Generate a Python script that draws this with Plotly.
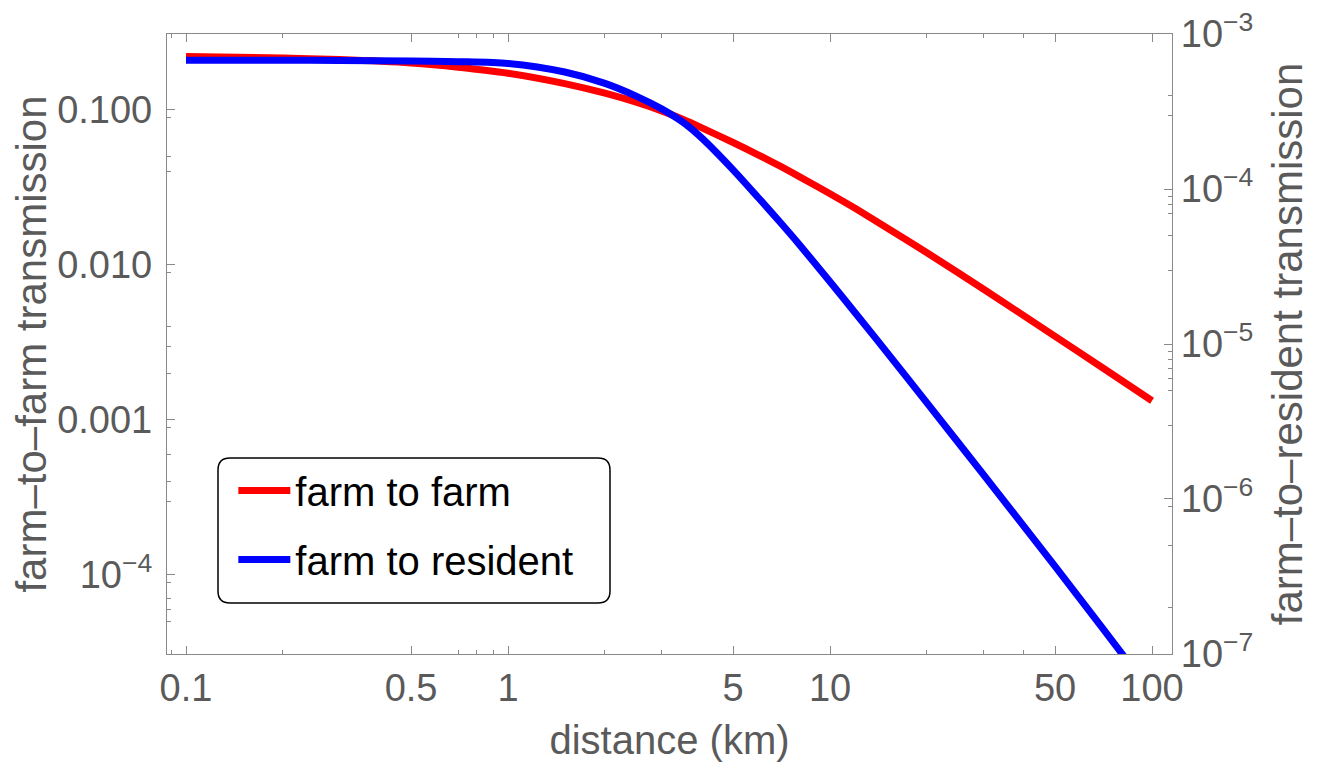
import plotly.graph_objects as go

# ---- data ----
distance_km = [0.1, 0.2, 0.3, 0.5, 0.7, 1, 1.5, 2, 2.5, 3, 3.5, 4, 5, 6, 7, 8,
               10, 12, 15, 20, 30, 50, 70, 100]
farm_to_farm = [0.2213, 0.2163, 0.2113, 0.2009, 0.1888, 0.1726, 0.1479, 0.1282,
                0.1122, 0.0986, 0.0867, 0.0766, 0.0617, 0.0512, 0.0434, 0.0373,
                0.0288, 0.0231, 0.0174, 0.0120, 0.00697, 0.00346, 0.00218, 0.00133]
farm_to_resident = [6.79e-4, 6.78e-4, 6.76e-4, 6.71e-4, 6.64e-4, 6.46e-4, 5.69e-4,
                    4.81e-4, 3.98e-4, 3.29e-4, 2.69e-4, 2.13e-4, 1.33e-4, 8.75e-5,
                    6.10e-5, 4.42e-5, 2.52e-5, 1.58e-5, 8.87e-6, 4.17e-6, 1.43e-6,
                    3.67e-7, 1.48e-7, 5.56e-8]

x_tick_vals = [0.1, 0.5, 1, 5, 10, 50, 100]
x_tick_text = ["0.1", "0.5", "1", "5", "10", "50", "100"]
x_minor_vals = [0.09, 0.2, 0.7, 0.8, 0.9, 2, 3, 20, 30, 40]

y_tick_vals = [0.1, 0.01, 0.001, 1e-4]
y_tick_text = ["0.100", "0.010", "0.001", "10<sup>\u22124</sup>"]
y_minor_vals = [0.09, 0.05, 0.04, 0.009, 0.004, 0.003, 0.002, 0.0009, 0.0006,
                0.0004, 0.0003, 9e-5, 7e-5, 6e-5, 5e-5]

y2_tick_vals = [1e-3, 1e-4, 1e-5, 1e-6, 1e-7]
y2_tick_text = ["10<sup>\u22123</sup>", "10<sup>\u22124</sup>", "10<sup>\u22125</sup>",
                "10<sup>\u22126</sup>", "10<sup>\u22127</sup>"]
y2_minor_vals = [4e-4, 3e-4, 9e-5, 8e-5, 7e-5, 5e-5, 3e-5, 9e-6, 8e-6, 7e-6, 6e-6,
                 5e-6, 3e-6, 9e-7, 5e-7, 2e-7]

FONT = "Liberation Sans, Arial, sans-serif"
AXIS_COLOR = "#8a8a8a"
TEXT_COLOR = "#5a5a5a"

fig = go.Figure()
fig.add_trace(go.Scatter(x=distance_km, y=farm_to_farm, mode="lines",
                         name="farm to farm", legendgroup="a",
                         line=dict(color="#ff0000", width=7, shape="spline", smoothing=0.8),
                         yaxis="y"))
fig.add_trace(go.Scatter(x=distance_km, y=farm_to_resident, mode="lines",
                         name="farm to resident", legendgroup="b",
                         line=dict(color="#0000ff", width=7, shape="spline", smoothing=0.8),
                         yaxis="y2"))

tick_font = dict(family=FONT, size=38, color=TEXT_COLOR)
title_font = dict(family=FONT, size=42, color=TEXT_COLOR)

# the page body adds an 8 px offset; the figure is sized so the plot frame
# lands where the reference has it
fig.update_layout(
    width=1318, height=757,
    margin=dict(l=159, r=154, t=26, b=111, autoexpand=False),
    paper_bgcolor="white", plot_bgcolor="white",
    font=dict(family=FONT, color=TEXT_COLOR),
    xaxis=dict(
        type="log", range=[-1.059, 2.062], automargin=False,
        tickvals=x_tick_vals, ticktext=x_tick_text,
        ticks="inside", ticklen=8, tickwidth=1.2, tickcolor=AXIS_COLOR,
        minor=dict(tickvals=x_minor_vals, ticks="inside", ticklen=4,
                   tickwidth=1, tickcolor=AXIS_COLOR, showgrid=False),
        showline=True, linecolor=AXIS_COLOR, linewidth=1.3, mirror="ticks",
        showgrid=False, zeroline=False,
        tickfont=tick_font, ticklabelstandoff=0, ticklabeloverflow="allow",
        title=dict(text="distance (km)", font=dict(family=FONT, size=40, color=TEXT_COLOR),
                   standoff=18),
    ),
    yaxis=dict(
        type="log", range=[-4.51, -0.51], automargin=False,
        tickvals=y_tick_vals, ticktext=y_tick_text,
        ticks="inside", ticklen=8, tickwidth=1.2, tickcolor=AXIS_COLOR,
        minor=dict(tickvals=y_minor_vals, ticks="inside", ticklen=4,
                   tickwidth=1, tickcolor=AXIS_COLOR, showgrid=False),
        showline=True, linecolor=AXIS_COLOR, linewidth=1.3,
        showgrid=False, zeroline=False,
        tickfont=tick_font, ticklabelstandoff=6, ticklabeloverflow="allow",
        title=dict(text="farm\u2013to\u2013farm transmission", font=title_font, standoff=0),
    ),
    yaxis2=dict(
        type="log", range=[-7.0005, -2.9995], overlaying="y", side="right", automargin=False,
        tickvals=y2_tick_vals, ticktext=y2_tick_text,
        ticks="inside", ticklen=8, tickwidth=1.2, tickcolor=AXIS_COLOR,
        minor=dict(tickvals=y2_minor_vals, ticks="inside", ticklen=4,
                   tickwidth=1, tickcolor=AXIS_COLOR, showgrid=False),
        showline=True, linecolor=AXIS_COLOR, linewidth=1.3,
        showgrid=False, zeroline=False,
        tickfont=tick_font, ticklabelstandoff=0, ticklabeloverflow="allow",
        title=dict(text="farm\u2013to\u2013resident transmission", font=title_font, standoff=20),
    ),
    showlegend=True,
    legend=dict(
        x=0.066, y=0.316, xanchor="left", yanchor="top",
        bgcolor="rgba(0,0,0,0)", borderwidth=0,
        font=dict(family=FONT, size=40, color="black"),
        itemwidth=52, traceorder="grouped", tracegroupgap=14,
    ),
)

# rounded legend frame (paper coordinates)
x0, x1 = (218 - 167) / 1005, (610 - 167) / 1005
y0, y1 = (654 - 603) / 620, (654 - 458) / 620
rx, ry = 12 / 1005, 12 / 620
path = (f"M {x0+rx},{y0} L {x1-rx},{y0} Q {x1},{y0} {x1},{y0+ry} "
        f"L {x1},{y1-ry} Q {x1},{y1} {x1-rx},{y1} L {x0+rx},{y1} "
        f"Q {x0},{y1} {x0},{y1-ry} L {x0},{y0+ry} Q {x0},{y0} {x0+rx},{y0} Z")
fig.add_shape(type="path", path=path, xref="paper", yref="paper",
              line=dict(color="black", width=1.5), fillcolor="white", layer="below")

fig.write_html("out.html")
